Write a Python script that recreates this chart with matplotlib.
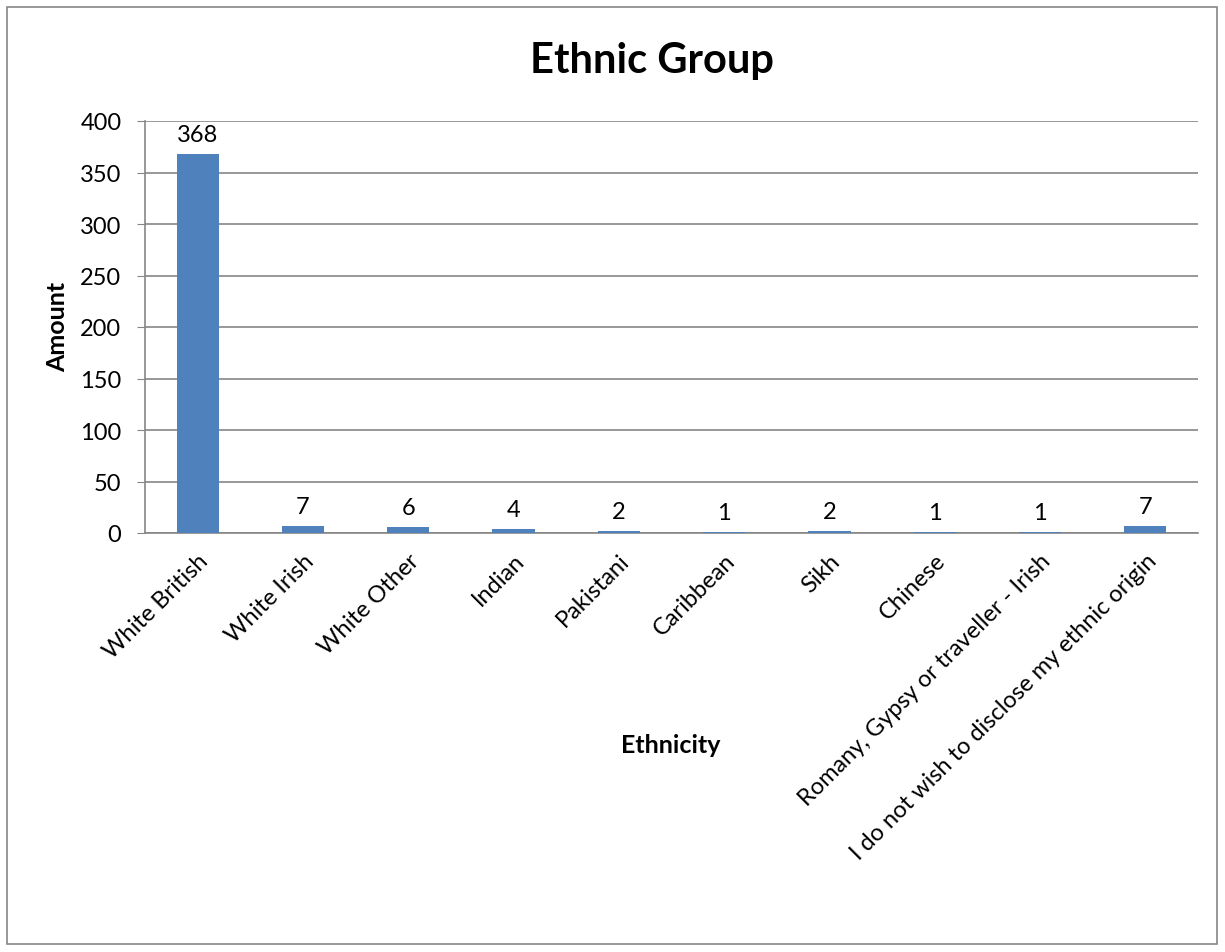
import matplotlib.pyplot as plt
import numpy as np
from matplotlib.patches import Rectangle

plt.rcParams['font.family'] = ['Lato', 'DejaVu Sans']

categories = ["White British", "White Irish", "White Other", "Indian", "Pakistani",
              "Caribbean", "Sikh", "Chinese", "Romany, Gypsy or traveller - Irish",
              "I do not wish to disclose my ethnic origin"]
amounts = [368, 7, 6, 4, 2, 1, 2, 1, 1, 7]
yticks = [0, 50, 100, 150, 200, 250, 300, 350, 400]

BAR = "#4f81bd"
GRID = "#868686"

fig = plt.figure(figsize=(12.25, 9.53), dpi=100)
# outer chart border
fig.patches.append(Rectangle((7/1225, 8/953), 1210/1225, 937/953, transform=fig.transFigure,
                             fill=False, edgecolor=GRID, lw=1.2))
ax = fig.add_axes([145/1225, 1 - 534/953, (1198-145)/1225, (534-122)/953])

x = np.arange(len(categories))
bars = ax.bar(x, amounts, width=0.4, color=BAR, zorder=3)
for b, v in zip(bars, amounts):
    ax.text(b.get_x() + b.get_width()/2, v + 9, str(v), ha="center", va="bottom", fontsize=17)

ax.set_xlim(-0.5, len(categories) - 0.5)
ax.set_ylim(0, 400)
ax.set_yticks(yticks)
ax.tick_params(axis="y", labelsize=17, length=6, color=GRID, pad=11)
ax.tick_params(axis="x", length=0, pad=12)
ax.set_xticks(x)
ax.set_xticklabels(categories, rotation=45, ha="right", rotation_mode="anchor", fontsize=17)
ax.yaxis.grid(True, color=GRID, lw=1.2, zorder=0)
for s in ["top", "right"]:
    ax.spines[s].set_visible(False)
ax.spines["left"].set_color(GRID)
ax.spines["bottom"].set_color(GRID)
ax.spines["left"].set_linewidth(1.2)
ax.spines["bottom"].set_linewidth(1.2)

fig.text(652/1225, 1 - 73/953, "Ethnic Group", ha="center", va="baseline", fontsize=30, fontweight="bold")
fig.text(58/1225, 1 - 327/953, "Amount", ha="center", va="center", rotation=90, fontsize=18, fontweight="bold")
fig.text(671/1225, 1 - 746/953, "Ethnicity", ha="center", va="center", fontsize=18, fontweight="bold")

fig.savefig("out.png", dpi=100)
